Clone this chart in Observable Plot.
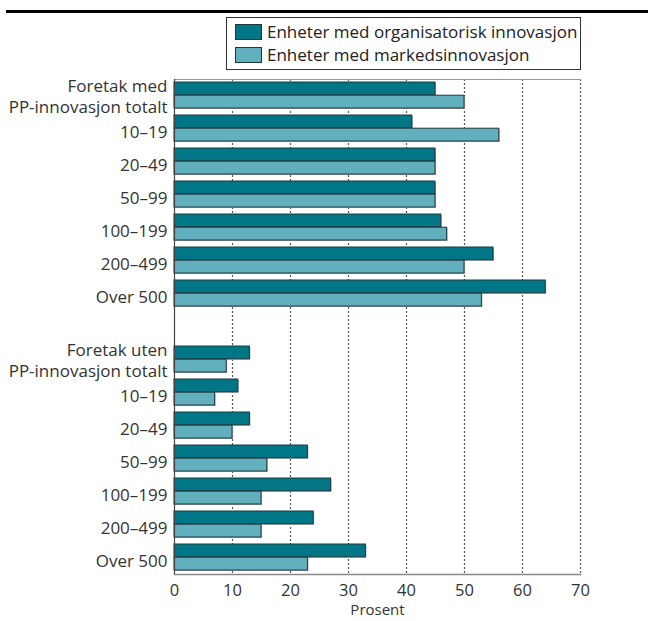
<!DOCTYPE html>
<html>
<head>
<meta charset="utf-8">
<script src="https://cdn.jsdelivr.net/npm/d3@7"></script>
<script src="https://cdn.jsdelivr.net/npm/@observablehq/plot@0.6"></script>
<style>
  html, body { margin: 0; padding: 0; background: #fff; }
  #wrap { position: relative; width: 653px; height: 621px; font-family: "Open Sans", sans-serif; }
  #rule { position: absolute; left: 6px; top: 10px; width: 642px; height: 3px; background: #000; }
  #legend { position: absolute; left: 226px; top: 17px; width: 353px; height: 51px; border: 1px solid #333; box-sizing: content-box; }
  .item { position: absolute; left: 8px; display: flex; align-items: center; font-size: 17px; line-height: 17px; color: #222; white-space: nowrap; }
  .sw { width: 25px; height: 14px; border: 1px solid #1d3a3f; margin-right: 5px; }
</style>
</head>
<body>
<div id="wrap">
  <div id="rule"></div>
  <div id="legend"></div>
  <div id="chart"></div>
</div>
<script>
const rowIds = ["g1tot","g1a","g1b","g1c","g1d","g1e","g1f","gap","g2tot","g2a","g2b","g2c","g2d","g2e","g2f"];
const rowLabels = ["Foretak med\nPP-innovasjon totalt","10–19","20–49","50–99","100–199","200–499","Over 500","",
                   "Foretak uten\nPP-innovasjon totalt","10–19","20–49","50–99","100–199","200–499","Over 500"];
const orgValues = [45,41,45,45,46,55,64,null,13,11,13,23,27,24,33];
const marketValues = [50,56,45,45,47,50,53,null,9,7,10,16,15,15,23];
const seriesNames = ["Enheter med organisatorisk innovasjon","Enheter med markedsinnovasjon"];
const seriesColors = ["#007686","#62b0bd"];
const xTicks = [0,10,20,30,40,50,60,70];
const gridTicks = [10,20,30,40,50,60,70];

const labelOf = new Map(rowIds.map((id, i) => [id, rowLabels[i]]));
const rows = rowIds.map((id, i) => ({id, org: orgValues[i], market: marketValues[i]})).filter(d => d.org != null);
const multiIds = rowIds.filter((id, i) => rowLabels[i].includes("\n"));
const singleIds = rowIds.filter((id, i) => rowLabels[i] && !rowLabels[i].includes("\n"));

const half = 13.2;
const chart = Plot.plot({
  width: 653,
  height: 621,
  marginLeft: 174,
  marginRight: 73,
  marginTop: 79,
  marginBottom: 47,
  style: {fontFamily: "Open Sans, sans-serif", fontSize: "17px", color: "#333", background: "transparent"},
  x: {domain: [0, 70]},
  y: {domain: rowIds, paddingInner: 0.2, paddingOuter: 0.1, axis: null},
  marks: [
    Plot.gridX(gridTicks, {stroke: "#555", strokeOpacity: 1, strokeDasharray: "2,2", strokeWidth: 1.2}),
    Plot.frame({anchor: "top", stroke: "#999"}),
    Plot.frame({anchor: "bottom", stroke: "#888", strokeWidth: 1.5}),
    // shadows
    Plot.barX(rows, {x: "org", y: "id", insetBottom: half, fill: "#aaa", dx: 1, dy: 1}),
    Plot.barX(rows, {x: "market", y: "id", insetTop: half, fill: "#aaa", dx: 1, dy: 1}),
    Plot.barX(rows, {x: "org", y: "id", insetBottom: half, fill: seriesColors[0], stroke: "#1d3a3f", strokeWidth: 1}),
    Plot.barX(rows, {x: "market", y: "id", insetTop: half, fill: seriesColors[1], stroke: "#1d3a3f", strokeWidth: 1}),
    Plot.ruleX([0], {stroke: "#444", strokeWidth: 1.2}),
    Plot.axisX({ticks: xTicks, tickSize: 0, tickPadding: 10, fontSize: 16.5, label: null}),
    Plot.text(["Prosent"], {frameAnchor: "bottom", lineAnchor: "middle", dy: 36, fontSize: 15, fill: "#333"}),
    Plot.axisY({ticks: singleIds, tickFormat: d => labelOf.get(d), tickSize: 0, tickPadding: 7, fontSize: 17, dy: 4, label: null}),
    Plot.axisY({ticks: multiIds, tickFormat: d => labelOf.get(d), tickSize: 0, tickPadding: 7, fontSize: 17, lineHeight: 1.25, label: null})
  ]
});
document.getElementById("chart").appendChild(chart);

const legend = document.getElementById("legend");
seriesNames.forEach((name, i) => {
  const item = document.createElement("div");
  item.className = "item";
  item.style.top = (5 + i * 23) + "px";
  const sw = document.createElement("div");
  sw.className = "sw";
  sw.style.background = seriesColors[i];
  item.appendChild(sw);
  item.appendChild(document.createTextNode(name));
  legend.appendChild(item);
});
</script>
</body>
</html>
